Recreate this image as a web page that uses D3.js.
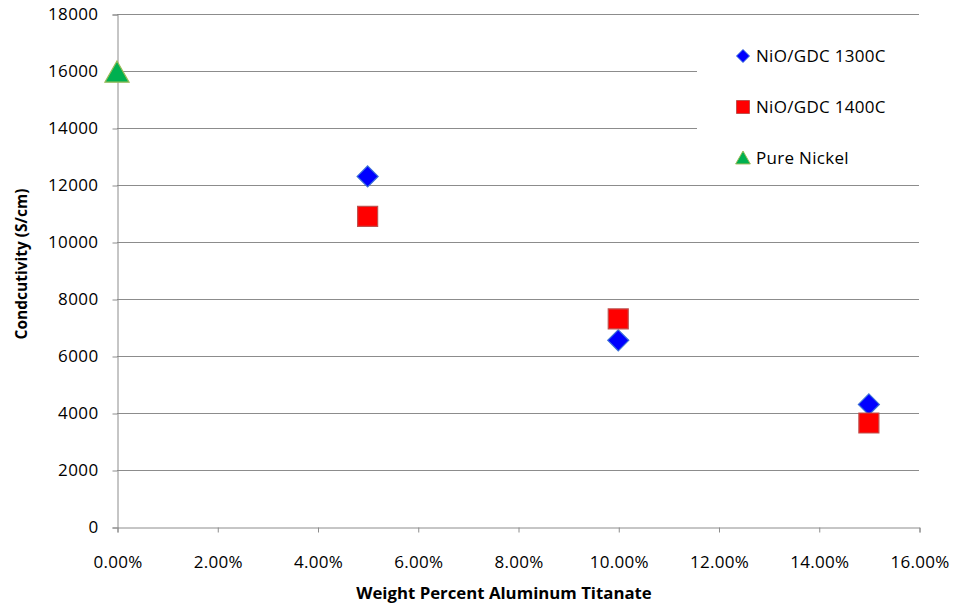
<!DOCTYPE html>
<html>
<head>
<meta charset="utf-8">
<script src="https://cdnjs.cloudflare.com/ajax/libs/d3/7.8.5/d3.min.js"></script>
<style>
  body { margin: 0; background: #fff; }
  svg { display: block; font-family: "Open Sans", sans-serif; }
</style>
</head>
<body>
<svg id="chart" width="954" height="607"></svg>
<script>
// Conductivity vs. aluminum titanate content
const xTicks = [0, 0.02, 0.04, 0.06, 0.08, 0.10, 0.12, 0.14, 0.16];
const yTicks = [0, 2000, 4000, 6000, 8000, 10000, 12000, 14000, 16000, 18000];

const series1300 = [
  { x: 0.05, y: 12300 },
  { x: 0.10, y: 6550 },
  { x: 0.15, y: 4300 }
];
const series1400 = [
  { x: 0.05, y: 10900 },
  { x: 0.10, y: 7300 },
  { x: 0.15, y: 3650 }
];
const seriesNickel = [
  { x: 0.0, y: 15950 }
];
const legendLabels = ["NiO/GDC 1300C", "NiO/GDC 1400C", "Pure Nickel"];

const svg = d3.select("#chart");
const plotLeft = 117, plotRight = 919, plotTop = 14, plotBottom = 527;

const x = d3.scaleLinear().domain([0, 0.16]).range([plotLeft, plotRight]);
const y = d3.scaleLinear().domain([0, 18000]).range([plotBottom, plotTop]);

const gridColor = "#8c8c8c";
const labelFont = "'Open Sans', sans-serif";

// horizontal gridlines
svg.append("g")
  .selectAll("line")
  .data(yTicks.filter(d => d > 0))
  .join("line")
  .attr("x1", plotLeft).attr("x2", plotRight)
  .attr("y1", d => y(d) + 0.5).attr("y2", d => y(d) + 0.5)
  .attr("stroke", gridColor).attr("stroke-width", 1);

// y axis
const yAxis = svg.append("g")
  .attr("transform", `translate(${plotLeft + 0.5},0.5)`)
  .call(d3.axisLeft(y).tickValues(yTicks).tickSize(5).tickPadding(14).tickFormat(d3.format("d")));
yAxis.select(".domain").attr("stroke", gridColor);
yAxis.selectAll(".tick line").attr("stroke", gridColor);
yAxis.selectAll("text").attr("font-size", 17).attr("letter-spacing", 0.4)
  .attr("fill", "#000").attr("font-family", labelFont);

// x axis
const xAxis = svg.append("g")
  .attr("transform", `translate(0.5,${plotBottom + 0.5})`)
  .call(d3.axisBottom(x).tickValues(xTicks).tickSize(5).tickPadding(23).tickFormat(d3.format(".2%")));
xAxis.select(".domain").attr("stroke", gridColor);
xAxis.selectAll(".tick line").attr("stroke", gridColor);
xAxis.selectAll("text").attr("font-size", 17).attr("letter-spacing", 0.3)
  .attr("fill", "#000").attr("font-family", labelFont);

// axis titles
svg.append("text")
  .attr("x", 504).attr("y", 599)
  .attr("text-anchor", "middle")
  .attr("font-size", 16.8).attr("font-weight", "bold")
  .text("Weight Percent Aluminum Titanate");

svg.append("text")
  .attr("transform", `translate(27,264) rotate(-90)`)
  .attr("text-anchor", "middle")
  .attr("font-size", 15.5).attr("font-weight", "bold")
  .text("Condcutivity (S/cm)");

// legend background covers gridlines
const lgX = 697, lgY = 30, lgW = plotRight - lgX, lgH = 153;
svg.append("rect")
  .attr("x", lgX).attr("y", lgY).attr("width", lgW).attr("height", lgH)
  .attr("fill", "#fff");

// marker shapes
const diamond = s => `M0,${-s}L${s},0L0,${s}L${-s},0Z`;
const square = s => `M${-s},${-s}H${s}V${s}H${-s}Z`;
const triangle = s => `M0,${-s}L${s * 1.05},${s * 0.85}L${-s * 1.05},${s * 0.85}Z`;

const styles = [
  { data: series1300, path: diamond, size: 10.5, fill: "#0000ff", stroke: "#3a6fd8", lsize: 6.5 },
  { data: series1400, path: square, size: 10, fill: "#ff0000", stroke: "#c0504d", lsize: 6.5 },
  { data: seriesNickel, path: triangle, size: 11.5, fill: "#00b050", stroke: "#9bbb59", lsize: 7 }
];

styles.forEach(st => {
  svg.append("g")
    .selectAll("path")
    .data(st.data)
    .join("path")
    .attr("transform", d => `translate(${x(d.x)},${y(d.y)})`)
    .attr("d", st.path(st.size))
    .attr("fill", st.fill)
    .attr("stroke", st.stroke)
    .attr("stroke-width", 1.2);
});

// legend entries
const legendY = [56, 107, 158];
styles.forEach((st, i) => {
  const g = svg.append("g").attr("transform", `translate(743,${legendY[i]})`);
  g.append("path").attr("d", st.path(st.lsize))
    .attr("fill", st.fill).attr("stroke", st.stroke).attr("stroke-width", 1);
  g.append("text")
    .attr("x", 13).attr("y", 6)
    .attr("font-size", 17).attr("letter-spacing", 0.3)
    .text(legendLabels[i]);
});
</script>
</body>
</html>
